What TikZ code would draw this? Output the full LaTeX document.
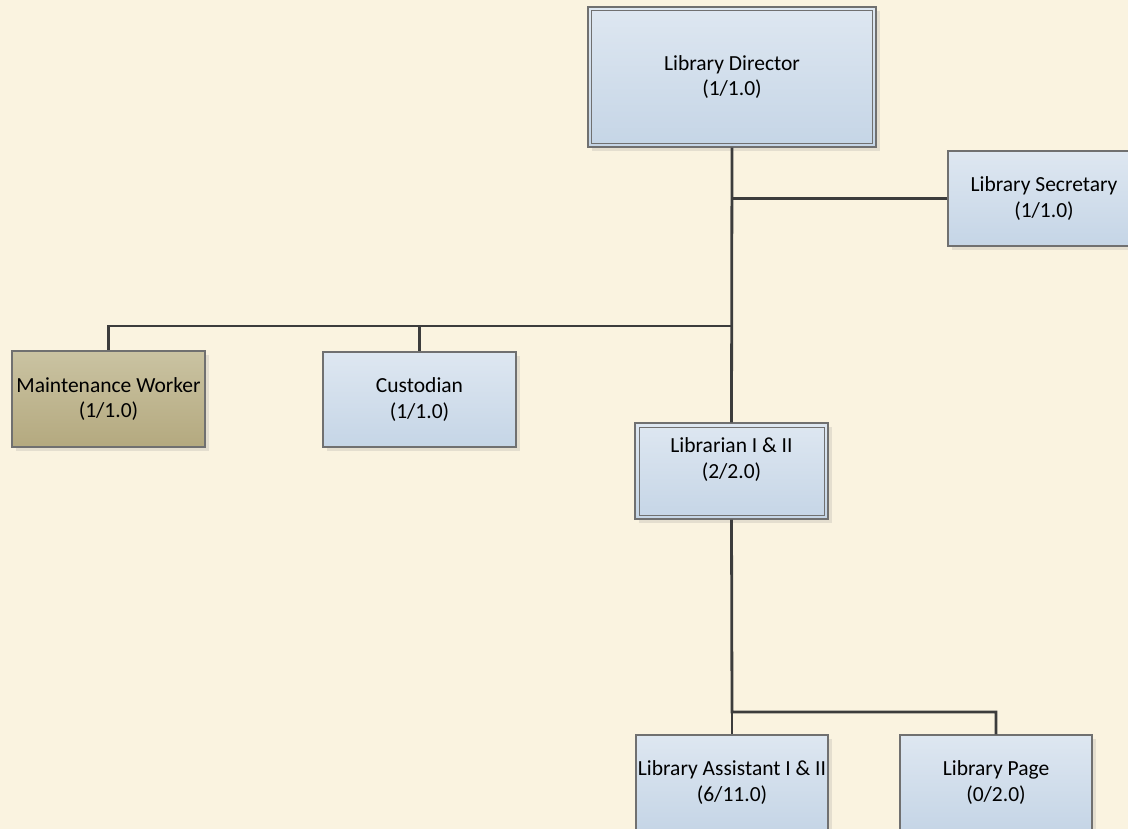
\documentclass[tikz,border=0pt]{standalone}
\usepackage{fontspec}
\setmainfont{Carlito}
\usetikzlibrary{shadows}
\definecolor{paper}{HTML}{FAF3E0}
\definecolor{blueTop}{HTML}{DEE7F1}
\definecolor{blueBot}{HTML}{C5D5E6}
\definecolor{tanTop}{HTML}{CAC3A2}
\definecolor{tanBot}{HTML}{B4A97F}
\definecolor{frame}{HTML}{707070}
\definecolor{wire}{HTML}{3C3C3C}
\definecolor{shade}{HTML}{E4DECF}
\tikzset{
  cardfont/.style={font=\fontsize{21.5}{25.5}\selectfont},
  card/.style={rectangle, draw=frame, line width=1.2pt, inner sep=0pt,
    top color=blueTop, bottom color=blueBot,
    drop shadow={shadow xshift=4pt, shadow yshift=-4pt, fill=shade, opacity=1},
    cardfont, align=center},
  tancard/.style={card, top color=tanTop, bottom color=tanBot},
  link/.style={draw=wire, line width=2.8pt},
  inner frame/.style={draw=frame, line width=0.8pt}
}
\begin{document}
\begin{tikzpicture}[x=1pt, y=-1pt]
  \fill[paper] (0,0) rectangle (1128,829);
  \useasboundingbox (0,0) rectangle (1128,829);

  % positions
  \node[card, minimum width=288pt, minimum height=140pt] (dir) at (732,77)
    {Library Director\\(1/1.0)};
  \node[card, minimum width=192pt, minimum height=95pt] (sec) at (1044,198.5)
    {Library Secretary\\(1/1.0)};
  \node[tancard, minimum width=193pt, minimum height=96pt] (mw) at (108.5,399)
    {Maintenance Worker\\(1/1.0)};
  \node[card, minimum width=193pt, minimum height=95pt] (cu) at (419.5,399.5)
    {Custodian\\(1/1.0)};
  \node[card, minimum width=193pt, minimum height=96pt,
    label={[name=libT, align=center, cardfont, yshift=11.5pt]center:{Librarian I \& II\\(2/2.0)}}]
    (lib) at (731.5,471) {};
  \node[card, minimum width=192pt, minimum height=95pt] (la) at (732,782.5)
    {Library Assistant I \& II\\(6/11.0)};
  \node[card, minimum width=192pt, minimum height=95pt] (pg) at (996,782.5)
    {Library Page\\(0/2.0)};

  % double frames
  \draw[inner frame] ([shift={(4pt,-4pt)}]dir.north west) rectangle ([shift={(-4pt,4pt)}]dir.south east);
  \draw[inner frame] ([shift={(4.5pt,-4.5pt)}]lib.north west) rectangle ([shift={(-4.5pt,4.5pt)}]lib.south east);

  % reporting lines
  \coordinate (busA) at (732,326);
  \coordinate (busB) at (732,712);
  \draw[link] (dir.south) -- (lib.north);
  \draw[link] (dir.south |- sec.west) -- (sec.west);
  \draw[link] (busA) -| (mw.north);
  \draw[link] (busA -| cu.north) -- (cu.north);
  \draw[link] (lib.south) -- (busB) -| (pg.north);
  \draw[link] (busB) -- (la.north);
\end{tikzpicture}
\end{document}
